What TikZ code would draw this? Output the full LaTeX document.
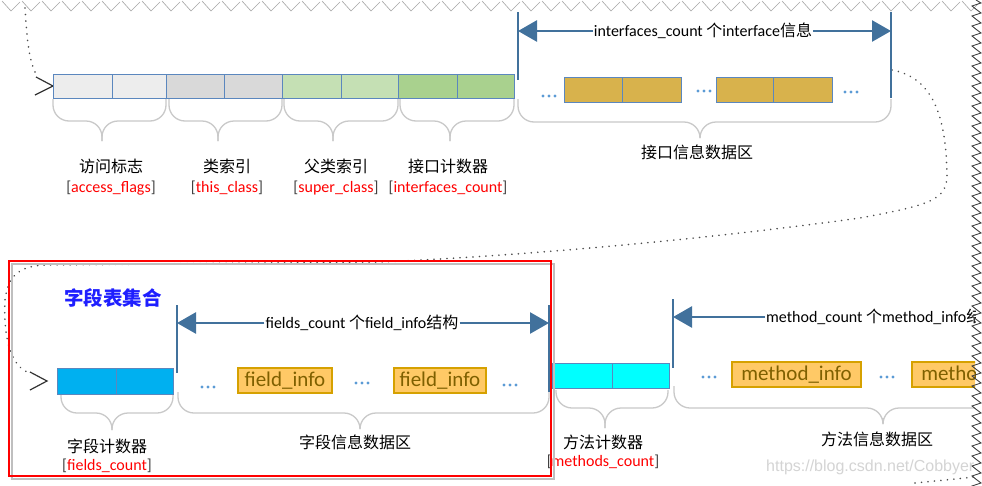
\documentclass[tikz,border=0pt]{standalone}
\usepackage{fontspec}
\setmainfont{Carlito}
\newfontfamily\cjk{Noto Sans CJK SC}
\newfontfamily\wmfont{Liberation Sans}
\usetikzlibrary{arrows.meta}
\definecolor{edgeblue}{HTML}{5B87BE}
\definecolor{arrowblue}{HTML}{41719C}
\definecolor{graya}{HTML}{EDEDED}
\definecolor{grayb}{HTML}{D9D9D9}
\definecolor{greena}{HTML}{C5E0B4}
\definecolor{greenb}{HTML}{A9D18E}
\definecolor{goldfill}{HTML}{D8B24C}
\definecolor{infofill}{HTML}{FFC966}
\definecolor{infoedge}{HTML}{D6A100}
\definecolor{infotext}{HTML}{7F6000}
\definecolor{skyfill}{HTML}{00B0F0}
\definecolor{cyanfill}{HTML}{00FFFF}
\definecolor{dotblue}{HTML}{5B9BD5}
\definecolor{bracegray}{HTML}{C9C9C9}
\definecolor{labred}{HTML}{FF0000}
\definecolor{titleblue}{HTML}{1F1FFF}
\definecolor{wmgray}{HTML}{D4D4D4}
\tikzset{
  cell/.style={draw=edgeblue, line width=0.9pt, inner sep=0pt},
  infobox/.style={draw=infoedge, fill=infofill, line width=2.4pt, inner sep=0pt,
    text=infotext, font=\fontsize{21}{24}\selectfont},
  vline/.style={draw=arrowblue, line width=2.6pt},
  bigarrow/.style={draw=arrowblue, line width=2.6pt, -{Triangle[length=19pt,width=21pt]}},
  arrowlab/.style={fill=white, inner sep=1pt, font=\fontsize{16}{18}\selectfont},
  bracestyle/.style={draw=bracegray, line width=1.3pt, rounded corners=16pt},
  cnlab/.style={font=\fontsize{16}{18}\selectfont\cjk, inner sep=0pt},
  codelab/.style={font=\fontsize{16}{18}\selectfont, inner sep=0pt, text=black!75},
  dotpath/.style={draw=black!70, line width=1.7pt, dash pattern=on 0.1pt off 6.4pt, line cap=round},
  chevron/.style={draw=black!80, line width=1.2pt},
  ellip/.pic={\foreach \dx in {-6,0,6} \fill[dotblue] (\dx,0) circle (1.7);}
}
\newcommand\curlybrace[6]{%
  \draw[bracestyle] (#1,#4) -- (#1,#5) -- (#3,#5) -- (#3,#6);
  \draw[bracestyle] (#2,#4) -- (#2,#5) -- (#3,#5) -- (#3,#6);}
\begin{document}
\begin{tikzpicture}[x=1pt,y=-1pt]
\useasboundingbox (0,0) rectangle (982,485);
\fill[white] (0,0) rectangle (982,485);
\begin{scope}
\clip (0,0) rectangle (975,485);
% ---------- dotted flow lines ----------
\coordinate (dtop) at (25,8);
\coordinate (dtopend) at (37,76);
\draw[dotpath] (dtop) .. controls (27,40) and (29,62) .. (dtopend);
\coordinate (dr0) at (892,70);
\coordinate (dr1) at (947,175);
\coordinate (dr2) at (860,218);
\coordinate (dr3) at (380,262);
\coordinate (dr4) at (45,265);
\coordinate (dr5) at (5,300);
\coordinate (dr6) at (30,373);
\draw[dotpath] (dr0) .. controls (935,78) and (946,120) .. (dr1)
  .. controls (947,200) and (930,205) .. (dr2)
  .. controls (700,240) and (520,256) .. (dr3) -- (dr4)
  .. controls (20,266) and (8,275) .. (dr5)
  .. controls (3,340) and (12,368) .. (dr6);
\coordinate (db0) at (915,483);
\coordinate (db1) at (975,477);
\draw[dotpath] (db0) -- (db1);
% chevrons
\coordinate (ch1a) at (36,77); \coordinate (ch1b) at (53,86); \coordinate (ch1c) at (35,95);
\draw[chevron] (ch1a) -- (ch1b) -- (ch1c);
\coordinate (ch2a) at (30,372); \coordinate (ch2b) at (47,381); \coordinate (ch2c) at (30,390);
\draw[chevron] (ch2a) -- (ch2b) -- (ch2c);
% ---------- top row ----------
\node[cell, fill=graya, minimum width=59pt, minimum height=24pt] (af1) at (82.5,86) {};
\node[cell, fill=graya, minimum width=54pt, minimum height=24pt] (af2) at (139,86) {};
\node[cell, fill=grayb, minimum width=58pt, minimum height=24pt] (tc1) at (195,86) {};
\node[cell, fill=grayb, minimum width=58pt, minimum height=24pt] (tc2) at (253,86) {};
\node[cell, fill=greena, minimum width=59pt, minimum height=24pt] (sc1) at (311.5,86) {};
\node[cell, fill=greena, minimum width=57pt, minimum height=24pt] (sc2) at (369.5,86) {};
\node[cell, fill=greenb, minimum width=59pt, minimum height=24pt] (ic1) at (427.5,86) {};
\node[cell, fill=greenb, minimum width=57pt, minimum height=24pt] (ic2) at (485.5,86) {};
% interface area
\node[cell, fill=goldfill, minimum width=58pt, minimum height=25pt] (if1) at (593,89.5) {};
\node[cell, fill=goldfill, minimum width=59pt, minimum height=25pt] (if2) at (651.5,89.5) {};
\node[cell, fill=goldfill, minimum width=57pt, minimum height=25pt] (if3) at (744.5,89.5) {};
\node[cell, fill=goldfill, minimum width=59pt, minimum height=25pt] (if4) at (802.5,89.5) {};
\pic at (549,96) {ellip};
\pic at (704,91) {ellip};
\pic at (851,92) {ellip};
\coordinate (il1) at (518,12); \coordinate (il2) at (518,80);
\coordinate (ir1) at (891,12); \coordinate (ir2) at (891,98);
\draw[vline] (il1) -- (il2);
\draw[vline] (ir1) -- (ir2);
\node[arrowlab] (ilab) at (703,31) {interfaces\_count {\cjk 个}interface{\cjk 信息}};
\draw[bigarrow] (ilab.west) -- (il1 |- ilab);
\draw[bigarrow] (ilab.east) -- (ir1 |- ilab);
% braces top
\curlybrace{53}{166}{102}{99}{121}{141}
\curlybrace{169}{282}{218}{99}{121}{141}
\curlybrace{284}{398}{333}{99}{121}{141}
\curlybrace{400}{514}{450}{99}{121}{141}
\curlybrace{518}{891}{700}{99}{122}{137}
% labels top
\node[cnlab] (l1) at (111,166) {访问标志};
\node[codelab] (r1) at (111,188) {[\textcolor{labred}{access\_flags}]};
\node[cnlab] (l2) at (227,166) {类索引};
\node[codelab] (r2) at (227,188) {[\textcolor{labred}{this\_class}]};
\node[cnlab] (l3) at (336,166) {父类索引};
\node[codelab] (r3) at (336,188) {[\textcolor{labred}{super\_class}]};
\node[cnlab] (l4) at (448,166) {接口计数器};
\node[codelab] (r4) at (448,188) {[\textcolor{labred}{interfaces\_count}]};
\node[cnlab] (l5) at (697,152) {接口信息数据区};
% ---------- bottom row ----------
\node[font=\fontsize{19.5}{22}\selectfont\cjk\bfseries, text=titleblue, inner sep=0pt] (title) at (113,298) {字段表集合};
\node[cell, fill=skyfill, minimum width=59pt, minimum height=26pt] (fc1) at (86.5,381) {};
\node[cell, fill=skyfill, minimum width=57pt, minimum height=26pt] (fc2) at (144.5,381) {};
\node[infobox, minimum width=94pt, minimum height=25pt] (fi1) at (285,380.5) {field\_info};
\node[infobox, minimum width=92pt, minimum height=25pt] (fi2) at (440,380.5) {field\_info};
\pic at (208,387) {ellip};
\pic at (362,383) {ellip};
\pic at (510,385) {ellip};
\coordinate (fl1) at (177,305); \coordinate (fl2) at (177,373);
\coordinate (fr1) at (549,305); \coordinate (fr2) at (549,392);
\draw[vline] (fl1) -- (fl2);
\draw[vline] (fr1) -- (fr2);
\node[arrowlab] (flab) at (362,323) {fields\_count {\cjk 个}field\_info{\cjk 结构}};
\draw[bigarrow] (flab.west) -- (fl1 |- flab);
\draw[bigarrow] (flab.east) -- (fr1 |- flab);
\node[cell, fill=cyanfill, minimum width=60pt, minimum height=25pt] (mc1) at (582,375.5) {};
\node[cell, fill=cyanfill, minimum width=57pt, minimum height=25pt] (mc2) at (640.5,375.5) {};
\node[infobox, minimum width=129pt, minimum height=25pt] (mi1) at (796.5,374.5) {method\_info};
\node[infobox, minimum width=129pt, minimum height=25pt] (mi2) at (976.5,374.5) {method\_info};
\pic at (709,377) {ellip};
\pic at (887,377) {ellip};
\coordinate (ml1) at (673,299); \coordinate (ml2) at (673,368);
\draw[vline] (ml1) -- (ml2);
\node[arrowlab, anchor=west] (mlab) at (765,317) {method\_count {\cjk 个}method\_info{\cjk 结构}};
\draw[bigarrow] (mlab.west) -- (ml1 |- mlab);
% braces bottom
\curlybrace{61}{173}{112}{395}{413}{430}
\curlybrace{178}{549}{360}{392}{413}{427}
\curlybrace{556}{668}{605}{390}{408}{428}
\curlybrace{674}{1092}{883}{386}{408}{418}
% labels bottom
\node[cnlab] (l6) at (107,446) {字段计数器};
\node[codelab] (r6) at (107,466) {[\textcolor{labred}{fields\_count}]};
\node[cnlab] (l7) at (355,442) {字段信息数据区};
\node[cnlab] (l8) at (603,442) {方法计数器};
\node[codelab] (r8) at (603,462) {[\textcolor{labred}{methods\_count}]};
\node[cnlab] (l9) at (877,439) {方法信息数据区};
\node[anchor=west, inner sep=0pt, text=wmgray, font=\fontsize{16}{18}\selectfont\wmfont] (wm) at (766,467) {https://blog.csdn.net/Cobbyer};
% red frame with shadow
\draw[black!25, line width=2pt] (12,264) rectangle (554,479);
\draw[labred, line width=2pt] (9,261) rectangle (551,476);
\end{scope}
% ---------- torn edges ----------
\foreach \i in {0,...,48} {
  \draw[black!35, line width=0.6pt] (\i*20+2,1) -- (\i*20+11,11) -- (\i*20+20,2);
}
\draw[black!75, line width=0.9pt] (976,0) \foreach \y in {0,10,...,480} { -- (981,\y+3) -- (972,\y+6) -- (977,\y+10) };
\end{tikzpicture}
\end{document}
